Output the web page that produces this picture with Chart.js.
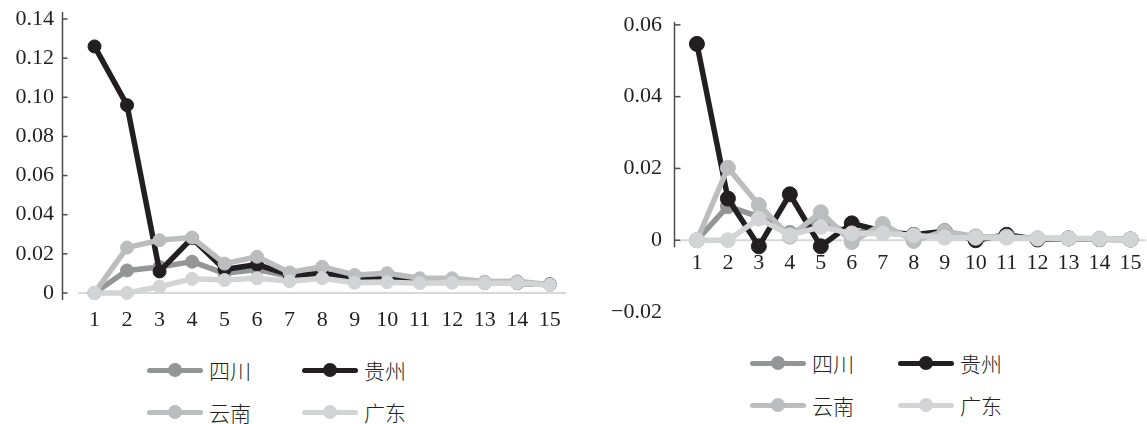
<!DOCTYPE html>
<html>
<head>
<meta charset="utf-8">
<script src="https://cdn.jsdelivr.net/npm/chart.js@4.4.1/dist/chart.umd.min.js"></script>
<style>
  html, body { margin: 0; padding: 0; background: #fff; }
  body { width: 1147px; height: 424px; position: relative; overflow: hidden; }
  .wrap { position: absolute; top: 0; }
  #leftWrap { left: 0; width: 580px; height: 340px; }
  #rightWrap { left: 580px; width: 567px; height: 330px; }
  .legend { position: absolute; display: grid; grid-auto-rows: 42px; align-items: center; }
  #leftLegend { left: 147px; top: 349px; grid-template-columns: 155px auto; }
  #rightLegend { left: 750px; top: 342px; grid-template-columns: 148px auto; }
  .item { display: flex; align-items: center; font-family: "Noto Sans CJK SC", sans-serif; font-weight: 300; font-size: 21px; color: #231f20; line-height: 1; }
  .swatch { position: relative; width: 56px; height: 14px; margin-right: 6px; flex: none; }
  .swatch .bar { position: absolute; left: 0; right: 0; top: 4.5px; height: 5px; border-radius: 2.5px; }
  .swatch .dot { position: absolute; left: 21px; top: 0; width: 14px; height: 14px; border-radius: 50%; }
</style>
</head>
<body>
<div class="wrap" id="leftWrap"><canvas id="leftChart" width="580" height="340"></canvas></div>
<div class="wrap" id="rightWrap"><canvas id="rightChart" width="567" height="330"></canvas></div>
<div class="legend" id="leftLegend"></div>
<div class="legend" id="rightLegend"></div>
<script>
// Periods on the horizontal axis
const periods = [1, 2, 3, 4, 5, 6, 7, 8, 9, 10, 11, 12, 13, 14, 15];

// Province names (legend order) and their greys
const seriesNames  = ['四川', '贵州', '云南', '广东'];
const seriesColors = ['#949597', '#231f20', '#bbbdbf', '#d3d4d6'];

// Left panel values
const leftSichuan   = [0, 0.0115, 0.0133, 0.0160, 0.0100, 0.0120, 0.0085, 0.0100, 0.0080, 0.0082, 0.0065, 0.0062, 0.0052, 0.0050, 0.0045];
const leftGuizhou   = [0.126, 0.096, 0.011, 0.028, 0.012, 0.0145, 0.0092, 0.0098, 0.0082, 0.0085, 0.0065, 0.0062, 0.0052, 0.0050, 0.0043];
const leftYunnan    = [0, 0.0232, 0.0270, 0.0283, 0.0150, 0.0185, 0.0105, 0.0134, 0.0092, 0.0101, 0.0075, 0.0075, 0.0058, 0.0060, 0.0042];
const leftGuangdong = [0, 0, 0.0032, 0.0072, 0.0066, 0.0075, 0.0060, 0.0075, 0.0052, 0.0055, 0.0050, 0.0052, 0.0050, 0.0050, 0.0041];

// Right panel values
const rightSichuan   = [0, 0.0095, 0.0065, 0.0020, 0.0050, 0.0020, 0.0030, 0.0010, 0.0020, 0.0010, 0.0010, 0.0005, 0.0005, 0.0003, 0.0002];
const rightGuizhou   = [0.0547, 0.0116, -0.0017, 0.0128, -0.0017, 0.0047, 0.0025, 0.0015, 0.0025, 0.0000, 0.0015, 0.0002, 0.0005, 0.0003, 0.0002];
const rightYunnan    = [0, 0.0202, 0.0098, 0.0010, 0.0078, -0.0005, 0.0045, -0.0002, 0.0025, 0.0010, 0.0010, 0.0005, 0.0005, 0.0003, 0.0002];
const rightGuangdong = [0, 0, 0.0060, 0.0014, 0.0037, 0.0019, 0.0019, 0.0014, 0.0007, 0.0007, 0.0007, 0.0005, 0.0005, 0.0005, 0.0002];

// Vertical tick values and their labels
const leftYTicks       = [0, 0.02, 0.04, 0.06, 0.08, 0.10, 0.12, 0.14];
const leftYTickLabels  = ['0', '0.02', '0.04', '0.06', '0.08', '0.10', '0.12', '0.14'];
const rightYTicks      = [-0.02, 0, 0.02, 0.04, 0.06];
const rightYTickLabels = ['\u22120.02', '0', '0.02', '0.04', '0.06'];

const INK = '#231f20';
const SERIF = '"Liberation Serif", "Times New Roman", serif';

// Zero reference line, vertical axis line and inward tick marks
const axisDecor = {
  id: 'axisDecor',
  beforeDatasetsDraw(chart, args, o) {
    const { ctx, chartArea } = chart;
    const xs = chart.scales.x, ys = chart.scales.y;
    ctx.save();
    const y0 = ys.getPixelForValue(0);
    ctx.strokeStyle = '#d8d8d8';
    ctx.lineWidth = 2;
    ctx.beginPath();
    ctx.moveTo(xs.getPixelForValue(0.5), y0);
    ctx.lineTo(xs.getPixelForValue(15.5), y0);
    ctx.stroke();

    const ax = chartArea.left + 0.5;
    ctx.strokeStyle = '#4d4d4f';
    ctx.lineWidth = 1.5;
    ctx.beginPath();
    ctx.moveTo(ax, ys.getPixelForValue(ys.max));
    ctx.lineTo(ax, ys.getPixelForValue(o.axisBottom));
    ctx.stroke();
    ys.ticks.forEach(t => {
      if (t.value < o.axisBottom) return;
      const py = ys.getPixelForValue(t.value);
      ctx.beginPath();
      ctx.moveTo(ax, py);
      ctx.lineTo(ax + o.tickLen, py);
      ctx.stroke();
    });
    ctx.restore();
  }
};

function makeDatasets(valueLists, pointRadius) {
  return valueLists.map((vals, i) => ({
    label: seriesNames[i],
    data: periods.map((p, k) => ({ x: p, y: vals[k] })),
    borderColor: seriesColors[i],
    backgroundColor: seriesColors[i],
    pointBackgroundColor: seriesColors[i],
    pointBorderColor: seriesColors[i],
    pointBorderWidth: 1,
    pointRadius: pointRadius,
    borderWidth: 5.5,
    borderJoinStyle: 'round',
    borderCapStyle: 'round',
    tension: 0,
    clip: false,
    order: valueLists.length - i   // later provinces drawn on top
  }));
}

// Keep the plot area exactly where the layout padding puts it
function noLabelMargins(s) {
  s.paddingTop = 0; s.paddingBottom = 0; s.paddingLeft = 0; s.paddingRight = 0;
}

function makeChart(id, cfg) {
  return new Chart(document.getElementById(id), {
    type: 'line',
    data: { datasets: makeDatasets(cfg.series, cfg.pointRadius) },
    options: {
      responsive: false,
      animation: false,
      devicePixelRatio: 1,
      layout: { padding: cfg.padding, autoPadding: false },
      plugins: {
        legend: { display: false },
        tooltip: { enabled: false },
        axisDecor: { axisBottom: cfg.axisBottom, tickLen: cfg.tickLen }
      },
      scales: {
        x: {
          type: 'linear',
          position: cfg.xPosition,
          min: cfg.xMin,
          max: 15.5,
          grid: { display: false, drawTicks: false },
          border: { display: false },
          afterBuildTicks: s => { s.ticks = periods.map(v => ({ value: v })); },
          afterFit: s => { if (cfg.xHeight) s.height = cfg.xHeight; noLabelMargins(s); },
          ticks: {
            autoSkip: false, maxRotation: 0, padding: cfg.xPad,
            font: { family: SERIF, size: 22, lineHeight: cfg.xLineHeight },
            color: INK,
            callback: v => String(v)
          }
        },
        y: {
          type: 'linear',
          min: cfg.yMin,
          max: cfg.yMax,
          grid: { display: false, drawTicks: false },
          border: { display: false },
          afterBuildTicks: s => { s.ticks = cfg.yTicks.map(v => ({ value: v })); },
          afterFit: s => { s.width = cfg.yWidth; noLabelMargins(s); },
          ticks: {
            padding: cfg.yPad, font: { family: SERIF, size: 22 }, color: INK,
            callback: (v, i) => cfg.yLabels[i]
          }
        }
      }
    },
    plugins: [axisDecor]
  });
}

makeChart('leftChart', {
  series: [leftSichuan, leftGuizhou, leftYunnan, leftGuangdong],
  pointRadius: 6.5,
  padding: { top: 12, right: 14, bottom: 0, left: 0 },
  xMin: 0, xPosition: 'bottom', xHeight: 40, xPad: 7, xLineHeight: 1.2,
  yMin: -0.0036, yMax: 0.1436, yWidth: 62, yPad: 8,
  yTicks: leftYTicks, yLabels: leftYTickLabels,
  axisBottom: -0.0036, tickLen: 5
});

// Period labels here hang from the zero line rather than the plot's lower edge
makeChart('rightChart', {
  series: [rightSichuan, rightGuizhou, rightYunnan, rightGuangdong],
  pointRadius: 7.5,
  padding: { top: 22, right: 1, bottom: 18, left: 0 },
  xMin: 0.26, xPosition: { y: 0 }, xHeight: 0, xPad: 0, xLineHeight: 2.1,
  yMin: -0.02, yMax: 0.0608, yWidth: 94, yPad: 12,
  yTicks: rightYTicks, yLabels: rightYTickLabels,
  axisBottom: -0.002, tickLen: 6
});

// Legends: line-with-marker swatch followed by the province name
function buildLegend(id) {
  const box = document.getElementById(id);
  seriesNames.forEach((name, i) => {
    const item = document.createElement('div');
    item.className = 'item';
    const sw = document.createElement('span');
    sw.className = 'swatch';
    const bar = document.createElement('span');
    bar.className = 'bar';
    bar.style.background = seriesColors[i];
    const dot = document.createElement('span');
    dot.className = 'dot';
    dot.style.background = seriesColors[i];
    sw.appendChild(bar);
    sw.appendChild(dot);
    item.appendChild(sw);
    item.appendChild(document.createTextNode(name));
    box.appendChild(item);
  });
}
buildLegend('leftLegend');
buildLegend('rightLegend');
</script>
</body>
</html>
